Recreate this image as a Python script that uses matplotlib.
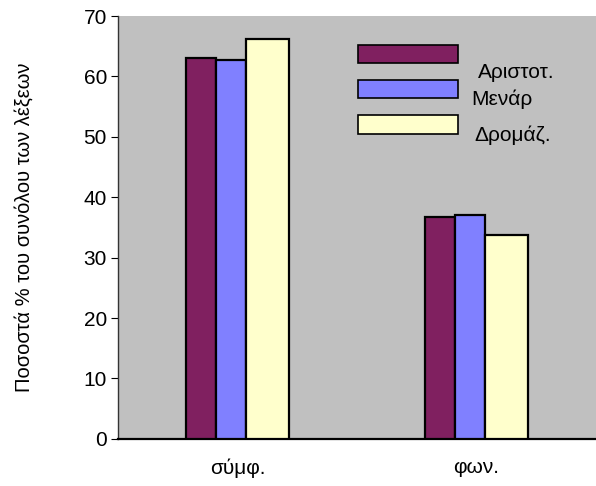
# -*- coding: utf-8 -*-
# grouped bars, word percentages per author
import numpy as np
import matplotlib.pyplot as plt
from matplotlib.patches import Rectangle

plt.rcParams['font.family'] = ['Liberation Sans', 'DejaVu Sans']

# ---------------------------------- data ----------------------------------
categories = ['σύμφ.', 'φων.']
series_names = ['Αριστοτ.', 'Μενάρ', 'Δρομάζ.']
aristot = [63.1, 36.8]
menar = [62.7, 37.1]
dromaz = [66.2, 33.7]
yticks = [0, 10, 20, 30, 40, 50, 60, 70]

colors = ['#802060', '#8080FF', '#FFFFCC']
widths = [0.126, 0.126, 0.18]
fs = 15

# ---------------------------------- plot ----------------------------------
fig = plt.figure(figsize=(5.96, 4.86), dpi=100)
ax = fig.add_axes([0.198, 0.097, 0.802, 0.870])
ax.set_facecolor('#C0C0C0')

x = np.arange(len(categories))
total = sum(widths)
left = x - total / 2
for vals, w, c in zip([aristot, menar, dromaz], widths, colors):
    ax.bar(left, vals, width=w, align='edge', color=c, edgecolor='black',
           linewidth=1.6, zorder=3)
    left = left + w

ax.set_xlim(-0.5, 1.5)
ax.set_ylim(0, 70)
ax.set_yticks(yticks)
ax.set_xticks(x)
ax.set_xticklabels(categories, fontsize=fs)
ax.tick_params(axis='x', length=0, pad=14)
ax.tick_params(axis='y', length=5, width=0.8, labelsize=fs, pad=3)
ax.set_ylabel('Ποσοστά % του συνόλου των λέξεων', fontsize=14.5, labelpad=36)

for s in ['top', 'right']:
    ax.spines[s].set_visible(False)
ax.spines['left'].set_color('#333333')
ax.spines['left'].set_linewidth(1.0)
ax.spines['bottom'].set_color('black')
ax.spines['bottom'].set_linewidth(1.6)

# legend, drawn by hand (no frame, labels sit a bit off the handles)
hx, hw, hh = 0.502, 0.209, 0.043
hys = [0.888, 0.805, 0.722]
lx = [0.754, 0.740, 0.746]
ly = [0.867, 0.803, 0.717]
for name, c, y0, tx, ty in zip(series_names, colors, hys, lx, ly):
    ax.add_patch(Rectangle((hx, y0), hw, hh, transform=ax.transAxes,
                           facecolor=c, edgecolor='black', linewidth=1.2,
                           zorder=5, clip_on=False))
    ax.text(tx, ty, name, transform=ax.transAxes, fontsize=fs,
            va='center', ha='left', zorder=5)

fig.savefig('out.png', dpi=100)
